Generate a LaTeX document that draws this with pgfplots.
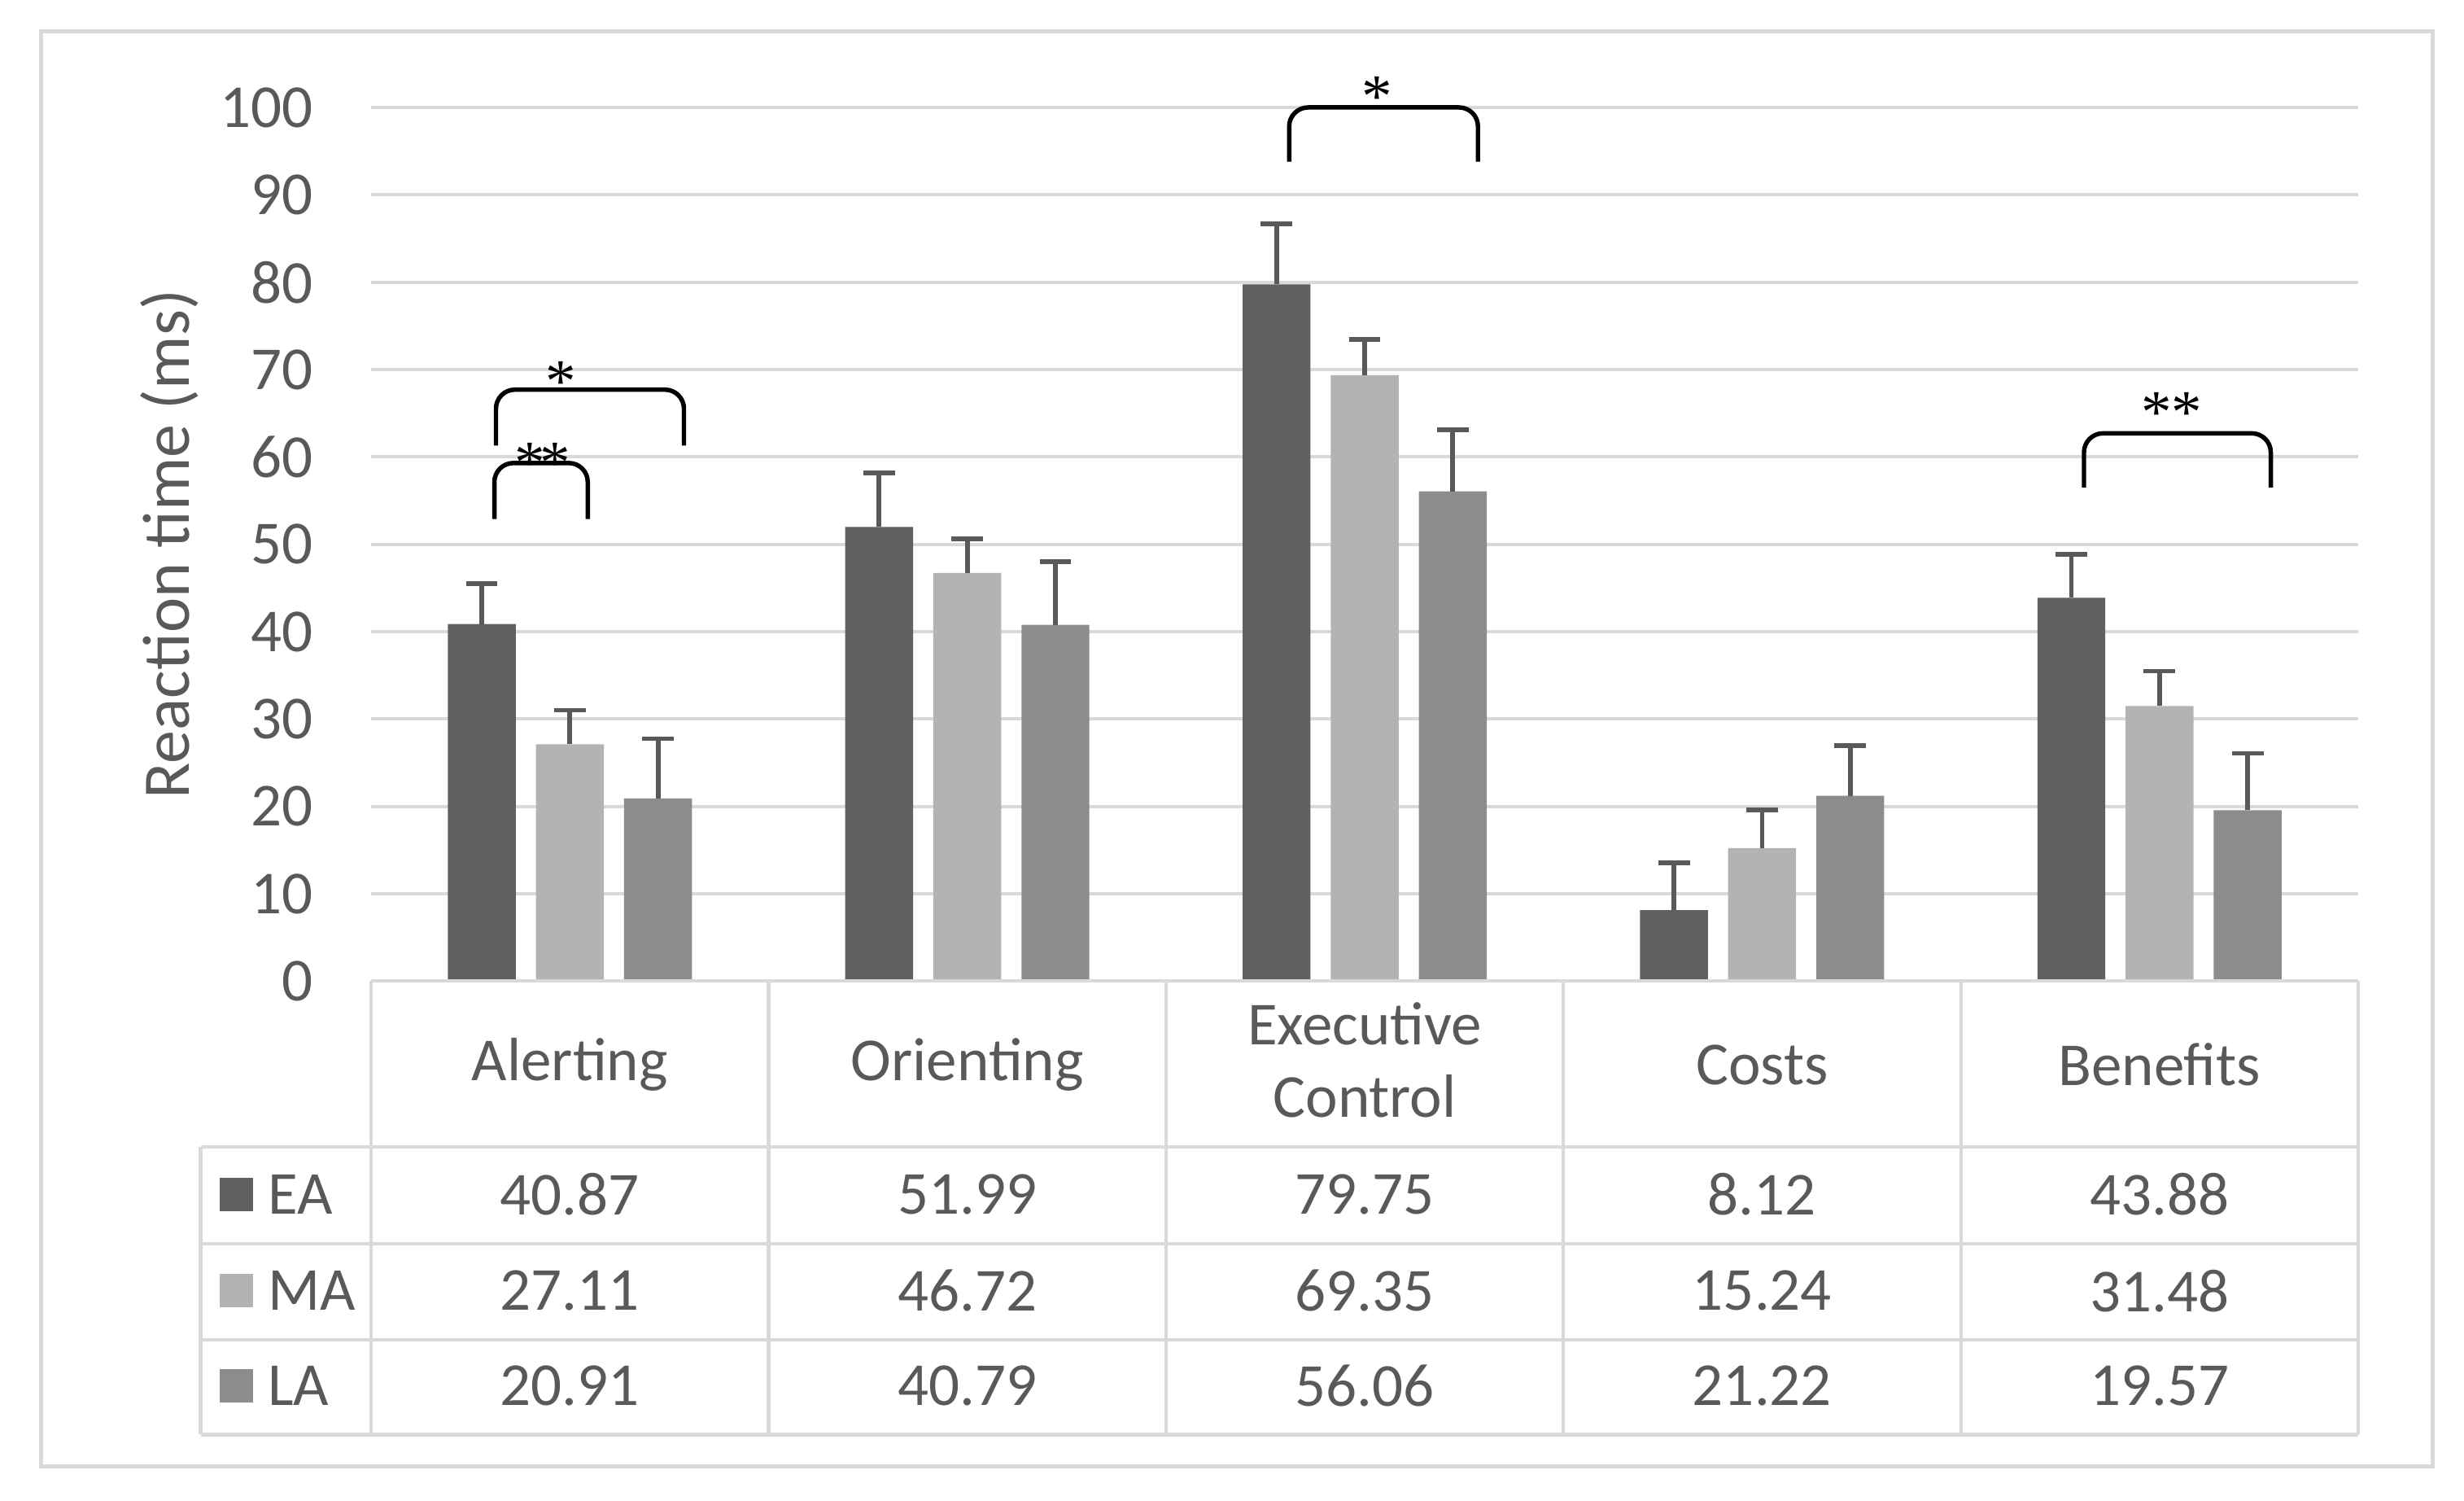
\documentclass[border=0pt]{standalone}
\usepackage{fontspec}
\setmainfont{Carlito}
\newfontfamily\starfont{Liberation Serif}
\usepackage{pgfplots}
\pgfplotsset{compat=1.18}
\definecolor{cEA}{HTML}{606060}
\definecolor{cMA}{HTML}{B3B3B3}
\definecolor{cLA}{HTML}{8C8C8C}
\definecolor{txt}{HTML}{595959}
\definecolor{gridc}{HTML}{D9D9D9}
\begin{document}
\begin{tikzpicture}[font=\fontsize{11}{13}\selectfont]
\begin{axis}[
    at={(0,0)}, anchor=south west,
    scale only axis, width=125.8mm, height=55.3mm,
    xmin=-0.5, xmax=4.5, ymin=0, ymax=100,
    ytick={0,10,...,100}, xtick=\empty,
    axis line style={draw=none},
    ymajorgrids, grid style={gridc, line width=0.6pt},
    major tick length=0pt,
    /pgf/number format/assume math mode=true,
    yticklabel style={text=txt, anchor=east, inner sep=0pt, xshift=-3.6mm,
        font=\fontsize{11}{13}\selectfont},
    ylabel={Reaction time (ms)},
    ylabel style={text=txt, font=\fontsize{12}{14}\selectfont,
        at={(axis description cs:-0.1017,0.5)}, anchor=center},
    ybar, bar width=4.3mm,
    clip=false,
    error bars/error bar style={txt, line width=0.85pt},
    error bars/error mark options={txt, line width=0.85pt, mark size=1mm, rotate=90},
]
% EA
\addplot[fill=cEA, draw=none, bar shift=-5.58mm,
    error bars/.cd, y dir=plus, y explicit]
    coordinates {(0,40.87) +- (0,4.6) (1,51.99) +- (0,6.2) (2,79.75) +- (0,6.9)
                 (3,8.12) +- (0,5.4) (4,43.88) +- (0,5.0)};
% MA
\addplot[fill=cMA, draw=none, bar shift=0mm,
    error bars/.cd, y dir=plus, y explicit]
    coordinates {(0,27.11) +- (0,3.9) (1,46.72) +- (0,3.9) (2,69.35) +- (0,4.1)
                 (3,15.24) +- (0,4.35) (4,31.48) +- (0,4.0)};
% LA
\addplot[fill=cLA, draw=none, bar shift=5.58mm,
    error bars/.cd, y dir=plus, y explicit]
    coordinates {(0,20.91) +- (0,6.85) (1,40.79) +- (0,7.2) (2,56.06) +- (0,7.05)
                 (3,21.22) +- (0,5.75) (4,19.57) +- (0,6.5)};

% significance brackets
\begin{scope}[black, line width=0.8pt, rounded corners=1.2mm]
\draw (axis cs:-0.186,61.3) -- (axis cs:-0.186,67.7) -- (axis cs:0.287,67.7) -- (axis cs:0.287,61.3);
\draw (axis cs:-0.190,52.9) -- (axis cs:-0.190,59.3) -- (axis cs:0.045,59.3) -- (axis cs:0.045,52.9);
\draw (axis cs:1.81,93.8) -- (axis cs:1.81,100) -- (axis cs:2.285,100) -- (axis cs:2.285,93.8);
\draw (axis cs:3.81,56.5) -- (axis cs:3.81,62.7) -- (axis cs:4.28,62.7) -- (axis cs:4.28,56.5);
\end{scope}
\begin{scope}[every node/.style={inner sep=0pt, anchor=north, font=\starfont\fontsize{11}{11}\selectfont}]
\node at (axis cs:-0.023,71.0) {*};
\node at (axis cs:-0.101,61.7) {*};
\node at (axis cs:-0.037,61.7) {*};
\node at (axis cs:2.032,103.6) {*};
\node at (axis cs:3.993,67.5) {*};
\node at (axis cs:4.069,67.5) {*};
\end{scope}
\end{axis}

% data table
\begin{scope}[gridc, line width=0.6pt]
\draw (0,0) -- (125.8mm,0);
\foreach \y in {-10.5,-16.6,-22.7,-28.7} \draw (-10.8mm,\y mm) -- (125.8mm,\y mm);
\foreach \x in {0,25.16,50.32,75.48,100.64,125.8} \draw (\x mm,0) -- (\x mm,-28.7mm);
\draw (-10.8mm,-10.5mm) -- (-10.8mm,-28.7mm);
\end{scope}
\begin{scope}[every node/.style={text=txt, align=center}]
\node at (12.58mm,-5.3mm) {Alerting};
\node at (37.74mm,-5.3mm) {Orienting};
\node at (62.90mm,-5.0mm) {Executive\\Control};
\node at (88.06mm,-5.3mm) {Costs};
\node at (113.22mm,-5.3mm) {Benefits};
\foreach \v [count=\i from 0] in {40.87,51.99,79.75,8.12,43.88}
  \node at (12.58mm+\i*25.16mm,-13.5mm) {\v};
\foreach \v [count=\i from 0] in {27.11,46.72,69.35,15.24,31.48}
  \node at (12.58mm+\i*25.16mm,-19.6mm) {\v};
\foreach \v [count=\i from 0] in {20.91,40.79,56.06,21.22,19.57}
  \node at (12.58mm+\i*25.16mm,-25.6mm) {\v};
\end{scope}
% legend keys
\fill[cEA] (-9.6mm,-14.55mm) rectangle (-7.5mm,-12.45mm);
\fill[cMA] (-9.6mm,-20.65mm) rectangle (-7.5mm,-18.55mm);
\fill[cLA] (-9.6mm,-26.65mm) rectangle (-7.5mm,-24.55mm);
\node[text=txt, anchor=west, inner sep=0pt] at (-6.6mm,-13.5mm) {EA};
\node[text=txt, anchor=west, inner sep=0pt] at (-6.6mm,-19.6mm) {MA};
\node[text=txt, anchor=west, inner sep=0pt] at (-6.6mm,-25.6mm) {LA};

% outer frame
\draw[gridc, line width=0.7pt] (-20.9mm,-30.7mm) rectangle (130.5mm,60.1mm);

\pgfresetboundingbox
\useasboundingbox (-23.5mm,-32.9mm) rectangle (132.5mm,62.1mm);
\end{tikzpicture}
\end{document}
